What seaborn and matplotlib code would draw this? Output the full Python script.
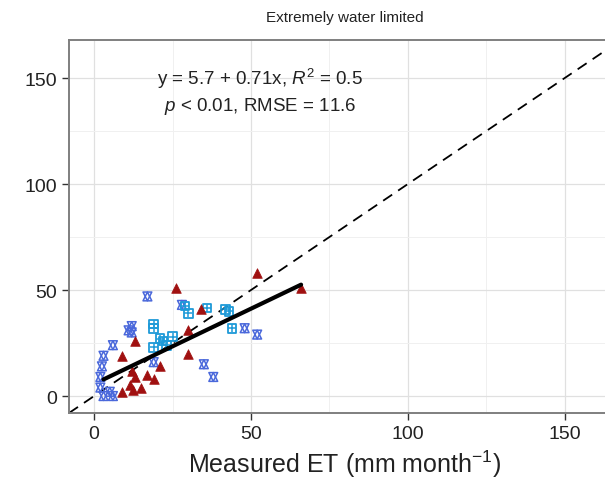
import matplotlib.pyplot as plt
import seaborn as sns
import pandas as pd

# values
red_x = [26, 52, 66, 34, 30, 30, 13, 9, 21, 17, 12, 13, 11.5, 12.5, 9, 15, 19]
red_y = [51, 58, 51, 41, 31, 20, 26, 19, 14, 10, 12, 9, 5, 3, 2, 4, 8]

square_x = [29, 30, 36, 42, 43, 44, 19, 19, 21, 25, 22, 19, 23]
square_y = [42.5, 39, 41.5, 41, 40, 32, 34, 32, 27, 28, 26, 23, 24]

star_x = [17, 28, 12, 12, 6, 3, 2.5, 2, 2, 5, 6, 3, 35, 38, 48, 52, 19, 11]
star_y = [47, 43, 33, 30, 24, 19, 14, 9, 4, 2, 0, 0, 15, 9, 32, 29, 16, 31]

intercept = 5.7
slope = 0.71
fit_range = [3, 66]
one_to_one = [-8, 168]

major_ticks = [0, 50, 100, 150]
minor_ticks = [25, 75, 125]

red = pd.DataFrame({'x': red_x, 'y': red_y})
sq = pd.DataFrame({'x': square_x, 'y': square_y})
st = pd.DataFrame({'x': star_x, 'y': star_y})
fit = pd.DataFrame({'x': fit_range, 'y': [intercept + slope * v for v in fit_range]})

sns.set_theme(style='white')
plt.rcParams['font.family'] = ['Liberation Sans', 'DejaVu Sans']
plt.rcParams['mathtext.fontset'] = 'custom'
plt.rcParams['mathtext.rm'] = 'Liberation Sans'
plt.rcParams['mathtext.it'] = 'Liberation Sans:italic'

fig = plt.figure(figsize=(6.05, 4.85), dpi=100)
# panel runs past the right edge, like the cropped original
ax = fig.add_axes([69 / 605, (485 - 414) / 485, (621 - 69) / 605, (414 - 41) / 485])

ax.set_xlim(-8, 168)
ax.set_ylim(-8, 168)
ax.set_xticks(major_ticks)
ax.set_yticks(major_ticks)
ax.set_xticks(minor_ticks, minor=True)
ax.set_yticks(minor_ticks, minor=True)
ax.grid(True, which='major', color='#e0e0e0', lw=0.9)
ax.grid(True, which='minor', color='#f0f0f0', lw=0.7)
ax.set_axisbelow(True)
for s in ax.spines.values():
    s.set_color('#7f7f7f')
    s.set_linewidth(1.4)
ax.spines['right'].set_visible(False)
ax.tick_params(axis='both', which='major', direction='out', length=5, width=1,
               color='#333333', labelsize=14, labelcolor='#222222', bottom=True, left=True)
ax.tick_params(axis='both', which='minor', length=0)

# 1:1 line
sns.lineplot(x=one_to_one, y=one_to_one, ax=ax, color='black', lw=1.3,
             linestyle=(0, (6, 4)))

# points
sns.scatterplot(data=st, x='x', y='y', ax=ax, marker='^', s=40, fc='none',
                ec='#4a68db', linewidth=1.1, zorder=3)
sns.scatterplot(data=st, x='x', y='y', ax=ax, marker='v', s=40, fc='none',
                ec='#4a68db', linewidth=1.1, zorder=3)
sns.scatterplot(data=sq, x='x', y='y', ax=ax, marker='s', s=40, fc='none',
                ec='#1e9ad8', linewidth=1.3, zorder=3)
sns.scatterplot(data=sq, x='x', y='y', ax=ax, marker='+', s=32, color='#1e9ad8',
                linewidth=1.1, zorder=3)
sns.scatterplot(data=red, x='x', y='y', ax=ax, marker='^', s=48, color='#a01010',
                edgecolor='#a01010', linewidth=0.5, zorder=4)

# regression line
sns.lineplot(data=fit, x='x', y='y', ax=ax, color='black', lw=3, zorder=5)

ax.text(53, 150, r'y = 5.7 + 0.71x, $\it{R}^2$ = 0.5', ha='center', va='center',
        fontsize=13.5, color='#222222')
ax.text(53, 137, r'$\it{p}$ < 0.01, RMSE = 11.6', ha='center', va='center',
        fontsize=13.5, color='#222222')

ax.set_xlabel('Measured ET (mm month$^{-1}$)', fontsize=18, color='#222222', labelpad=4)
ax.set_ylabel('')
fig.text(345 / 605, 1 - 18 / 485, 'Extremely water limited', ha='center', va='center',
         fontsize=11, color='#222222')

plt.savefig('out.png', dpi=100)
plt.close()
